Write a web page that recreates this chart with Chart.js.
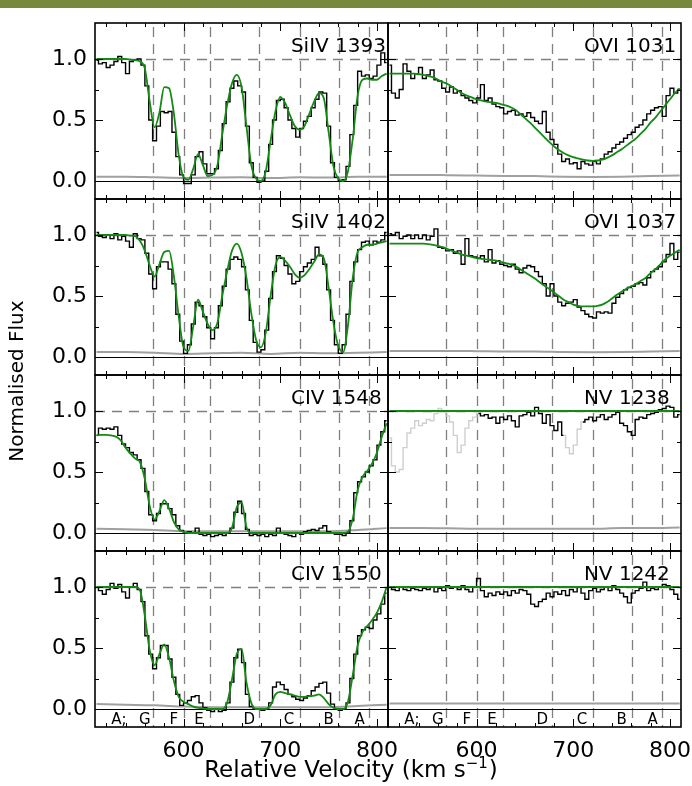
<!DOCTYPE html>
<html>
<head>
<meta charset="utf-8">
<script src="https://cdn.jsdelivr.net/npm/chart.js@4.4.1/dist/chart.umd.min.js"></script>
<style>
  body { margin: 0; background: #fff; width: 692px; height: 786px; position: relative; overflow: hidden; }
  #topbar { position: absolute; left: 0; top: 0; width: 692px; height: 8px; background: #76893d; }
  canvas { position: absolute; left: 0; top: 0; }
</style>
</head>
<body>
<div id="topbar"></div>
<script>
// velocity grids (km/s)
const modelVel = [510, 515, 520, 525, 530, 535, 540, 545, 550, 555,
  560, 565, 570, 575, 580, 585, 590, 595, 600, 605,
  610, 615, 620, 625, 630, 635, 640, 645, 650, 655,
  660, 665, 670, 675, 680, 685, 690, 695, 700, 705,
  710, 715, 720, 725, 730, 735, 740, 745, 750, 755,
  760, 765, 770, 775, 780, 785, 790, 795, 800, 805,
  810];
const dataVel = [510, 514, 518, 522, 526, 530, 534, 538, 542, 546,
  550, 554, 558, 562, 566, 570, 574, 578, 582, 586,
  590, 594, 598, 602, 606, 610, 614, 618, 622, 626,
  630, 634, 638, 642, 646, 650, 654, 658, 662, 666,
  670, 674, 678, 682, 686, 690, 694, 698, 702, 706,
  710, 714, 718, 722, 726, 730, 734, 738, 742, 746,
  750, 754, 758, 762, 766, 770, 774, 778, 782, 786,
  790, 794, 798, 802, 806, 810];
const errVel = [510, 540, 570, 600, 630, 660, 690, 720, 750, 780, 810];

// components
const componentVel = [568, 600, 627, 678, 720, 761, 792];
const componentNames = ['A;', 'G', 'F', 'E', 'D', 'C', 'B', 'A'];
const componentNameVel = [533, 560, 590, 616, 668, 709, 750, 782];

// ticks
const xMajorTicks = [600, 700, 800];
const xTickLabels = ['600', '700', '800'];
const xMinorTicks = [520, 540, 560, 580, 620, 640, 660, 680, 720, 740, 760, 780];
const yMajorTicks = [0, 0.5, 1.0];
const yTickLabels = ['0.0', '0.5', '1.0'];
const yMinorTicks = [0.25, 0.75];

// SiIV 1393
const siIV1393Model = [1.0, 1.0, 1.0, 1.0, 1.0, 1.0, 1.0, 0.995, 0.99, 0.98,
  0.92, 0.65, 0.44, 0.56, 0.77, 0.76, 0.55, 0.21, 0.03, 0.01,
  0.1, 0.22, 0.13, 0.04, 0.05, 0.13, 0.38, 0.62, 0.8, 0.87,
  0.77, 0.45, 0.13, 0.02, 0.0, 0.08, 0.33, 0.57, 0.69, 0.64,
  0.54, 0.45, 0.42, 0.45, 0.55, 0.65, 0.72, 0.68, 0.4, 0.12,
  0.02, 0.0, 0.08, 0.35, 0.7, 0.83, 0.84, 0.83, 0.83, 0.86,
  0.88];
const siIV1393Flux = [0.99, 0.96, 0.97, 0.93, 0.95, 0.98, 1.02, 0.97, 0.88, 0.98,
  0.99, 1.0, 0.95, 0.78, 0.5, 0.33, 0.45, 0.57, 0.56, 0.57,
  0.4, 0.2, 0.05, -0.02, -0.02, 0.05, 0.2, 0.24, 0.14, 0.06,
  0.06, 0.1, 0.25, 0.47, 0.65, 0.76, 0.82, 0.78, 0.73, 0.45,
  0.15, 0.03, -0.01, 0.0, 0.08, 0.3, 0.5, 0.66, 0.67, 0.6,
  0.5, 0.43, 0.36, 0.43, 0.49, 0.53, 0.6, 0.67, 0.73, 0.72,
  0.45, 0.15, 0.03, 0.0, 0.01, 0.12, 0.38, 0.62, 0.9, 0.86,
  0.87, 0.84, 0.86, 0.95, 1.05, 0.97];
const siIV1393Err = [0.035, 0.035, 0.03, 0.025, 0.028, 0.03, 0.025, 0.03, 0.028, 0.035, 0.035];

// OVI 1031
const oVI1031Model = [0.88, 0.88, 0.88, 0.88, 0.88, 0.88, 0.875, 0.87, 0.86, 0.85,
  0.83, 0.81, 0.795, 0.77, 0.745, 0.72, 0.7, 0.685, 0.67, 0.66,
  0.65, 0.645, 0.64, 0.63, 0.62, 0.605, 0.585, 0.55, 0.515, 0.48,
  0.44, 0.4, 0.36, 0.32, 0.285, 0.255, 0.23, 0.21, 0.195, 0.185,
  0.175, 0.168, 0.165, 0.168, 0.175, 0.19, 0.21, 0.235, 0.26, 0.29,
  0.32, 0.35, 0.39, 0.43, 0.48, 0.52, 0.57, 0.62, 0.67, 0.72,
  0.76];
const oVI1031Flux = [0.95, 0.72, 0.68, 0.75, 0.96, 0.9, 0.84, 0.88, 0.93, 0.84,
  0.87, 0.91, 0.83, 0.82, 0.76, 0.73, 0.77, 0.72, 0.74, 0.7,
  0.68, 0.66, 0.64, 0.68, 0.79, 0.66, 0.68, 0.63, 0.61, 0.6,
  0.55, 0.57, 0.58, 0.54, 0.55, 0.53, 0.56, 0.52, 0.49, 0.47,
  0.57, 0.4, 0.34, 0.3, 0.22, 0.16, 0.18, 0.14, 0.15, 0.1,
  0.16, 0.14, 0.13, 0.16, 0.14, 0.18, 0.22, 0.24, 0.27, 0.3,
  0.32, 0.35, 0.38, 0.4, 0.44, 0.46, 0.5, 0.55, 0.58, 0.6,
  0.61, 0.53, 0.7, 0.76, 0.72, 0.75];
const oVI1031Err = [0.05, 0.05, 0.048, 0.045, 0.042, 0.04, 0.035, 0.033, 0.035, 0.04, 0.045];

// SiIV 1402
const siIV1402Model = [1.0, 1.0, 1.0, 1.0, 1.0, 1.0, 1.0, 0.995, 0.99, 0.95,
  0.87, 0.75, 0.66, 0.76, 0.86, 0.87, 0.66, 0.33, 0.08, 0.05,
  0.25, 0.47, 0.37, 0.27, 0.22, 0.28, 0.5, 0.7, 0.87, 0.93,
  0.85, 0.65, 0.36, 0.14, 0.08, 0.2, 0.5, 0.75, 0.82, 0.79,
  0.74, 0.68, 0.65, 0.67, 0.72, 0.78, 0.84, 0.81, 0.57, 0.28,
  0.09, 0.04, 0.26, 0.65, 0.86, 0.9, 0.92, 0.92, 0.93, 0.94,
  0.95];
const siIV1402Flux = [1.02, 0.99, 0.98, 1.0, 0.97, 1.01, 0.96, 0.99, 0.95, 0.9,
  1.01, 0.97, 0.96, 0.85, 0.68, 0.56, 0.74, 0.78, 0.78, 0.72,
  0.6, 0.35, 0.13, 0.03, 0.1, 0.27, 0.45, 0.42, 0.33, 0.24,
  0.15, 0.24, 0.42, 0.58, 0.72, 0.8, 0.82, 0.8, 0.74, 0.55,
  0.3, 0.12, 0.04, 0.06, 0.22, 0.48, 0.7, 0.83, 0.81, 0.75,
  0.68, 0.6, 0.62, 0.7, 0.74, 0.77, 0.8, 0.9, 0.83, 0.76,
  0.55, 0.3, 0.1, 0.03, 0.1, 0.35, 0.62, 0.78, 0.88, 0.94,
  0.95, 0.92, 0.95, 0.94, 0.96, 1.02];
const siIV1402Err = [0.04, 0.04, 0.035, 0.025, 0.03, 0.035, 0.025, 0.035, 0.03, 0.035, 0.04];

// OVI 1037
const oVI1037Model = [0.93, 0.93, 0.93, 0.93, 0.93, 0.93, 0.93, 0.93, 0.925, 0.92,
  0.91, 0.9, 0.885, 0.87, 0.855, 0.84, 0.83, 0.82, 0.81, 0.805,
  0.8, 0.795, 0.79, 0.78, 0.77, 0.76, 0.745, 0.72, 0.695, 0.67,
  0.645, 0.615, 0.585, 0.56, 0.53, 0.5, 0.47, 0.45, 0.43, 0.42,
  0.415, 0.415, 0.415, 0.42, 0.43, 0.45, 0.48, 0.51, 0.535, 0.56,
  0.58, 0.6, 0.625, 0.65, 0.69, 0.72, 0.76, 0.8, 0.83, 0.855,
  0.88];
const oVI1037Flux = [1.01, 1.0, 1.02, 0.97, 0.99, 1.0, 0.97, 1.0, 0.97, 1.0,
  0.96, 0.99, 1.05, 0.9, 0.89, 0.87, 0.88, 0.85, 0.87, 0.76,
  0.97, 0.83, 0.82, 0.81, 0.83, 0.78, 0.88, 0.77, 0.79, 0.76,
  0.75, 0.74, 0.76, 0.72, 0.69, 0.73, 0.75, 0.74, 0.7, 0.66,
  0.6, 0.5, 0.6, 0.5, 0.45, 0.42, 0.44, 0.45, 0.47, 0.41,
  0.38, 0.35, 0.33, 0.32, 0.37, 0.36, 0.37, 0.36, 0.44, 0.49,
  0.52, 0.55, 0.57, 0.58, 0.6, 0.61, 0.59, 0.65, 0.7, 0.72,
  0.74, 0.78, 0.84, 0.93, 0.8, 0.86];
const oVI1037Err = [0.05, 0.05, 0.05, 0.048, 0.045, 0.045, 0.04, 0.038, 0.04, 0.045, 0.05];

// CIV 1548
const cIV1548Model = [0.8, 0.805, 0.805, 0.8, 0.79, 0.76, 0.7, 0.65, 0.61, 0.58,
  0.44, 0.22, 0.11, 0.18, 0.27, 0.2, 0.09, 0.03, 0.01, 0.0,
  0.0, 0.0, 0.0, 0.0, 0.0, 0.0, 0.0, 0.0, 0.04, 0.21,
  0.25, 0.05, 0.0, 0.0, 0.0, 0.0, 0.0, 0.0, 0.0, 0.0,
  0.0, 0.0, 0.0, 0.0, 0.0, 0.0, 0.0, 0.0, 0.0, 0.0,
  0.0, 0.0, 0.01, 0.12, 0.35, 0.46, 0.51, 0.57, 0.66, 0.79,
  0.9];
const cIV1548Flux = [0.8, 0.86, 0.85, 0.86, 0.85, 0.87, 0.8, 0.73, 0.7, 0.66,
  0.64, 0.6, 0.53, 0.34, 0.15, 0.1, 0.16, 0.24, 0.24, 0.2,
  0.15, 0.06, 0.02, 0.0, 0.01, 0.0, 0.04, -0.01, -0.02, -0.01,
  -0.03, -0.02, -0.01, -0.02, 0.0, 0.04, 0.17, 0.26, 0.16, 0.03,
  -0.02, -0.01, -0.02, -0.01, -0.03, -0.01, -0.02, 0.04, 0.0, -0.01,
  -0.02, -0.03, 0.0, -0.01, 0.01, 0.02, 0.03, 0.02, 0.04, 0.06,
  0.01, 0.0, -0.01, -0.01, -0.02, 0.0, 0.1, 0.33, 0.42, 0.46,
  0.5, 0.55, 0.6, 0.72, 0.83, 0.92];
const cIV1548Err = [0.035, 0.03, 0.025, 0.015, 0.015, 0.015, 0.015, 0.015, 0.015, 0.025, 0.04];

// NV 1238
const nV1238Model = [1.0, 1.0, 1.0, 1.0, 1.0, 1.0, 1.0, 1.0, 1.0, 1.0,
  1.0, 1.0, 1.0, 1.0, 1.0, 1.0, 1.0, 1.0, 1.0, 1.0,
  1.0, 1.0, 1.0, 1.0, 1.0, 1.0, 1.0, 1.0, 1.0, 1.0,
  1.0, 1.0, 1.0, 1.0, 1.0, 1.0, 1.0, 1.0, 1.0, 1.0,
  1.0, 1.0, 1.0, 1.0, 1.0, 1.0, 1.0, 1.0, 1.0, 1.0,
  1.0, 1.0, 1.0, 1.0, 1.0, 1.0, 1.0, 1.0, 1.0, 1.0,
  1.0];
const nV1238Flux = [0.78, 0.55, 0.5, 0.52, 0.7, 0.82, 0.86, 0.92, 0.88, 0.9,
  0.93, 0.92, 0.98, 1.02, 1.0, 0.96, 0.91, 0.8, 0.66, 0.72,
  0.86, 0.92, 0.95, 0.98, 0.96, 0.97, 0.94, 0.95, 0.9, 0.95,
  0.93, 0.96, 0.92, 0.87, 0.96, 0.97, 0.99, 0.96, 1.03, 0.98,
  0.9, 0.97, 0.88, 0.84, 0.91, 0.8, 0.7, 0.65, 0.72, 0.85,
  0.91, 0.93, 0.95, 0.92, 0.95, 0.97, 0.93, 0.95, 0.97, 0.99,
  0.9, 0.88, 0.83, 0.8, 0.93, 0.95, 0.94, 0.97, 0.98, 0.99,
  1.01, 1.02, 1.04, 1.03, 0.95, 0.97];
const nV1238Err = [0.04, 0.04, 0.038, 0.035, 0.035, 0.035, 0.035, 0.035, 0.04, 0.04, 0.045];
const nV1238Blends = [[508, 600], [690, 710]];

// CIV 1550
const cIV1550Model = [1.0, 1.0, 1.0, 1.0, 1.0, 1.0, 1.0, 1.0, 1.0, 0.97,
  0.76, 0.48, 0.36, 0.45, 0.53, 0.42, 0.23, 0.1, 0.06, 0.04,
  0.02, 0.01, 0.005, 0.0, 0.0, 0.0, 0.0, 0.05, 0.24, 0.45,
  0.49, 0.22, 0.05, 0.0, 0.0, 0.0, 0.03, 0.12, 0.14, 0.13,
  0.12, 0.11, 0.1, 0.1, 0.105, 0.11, 0.12, 0.09, 0.04, 0.01,
  0.0, 0.0, 0.06, 0.28, 0.52, 0.63, 0.68, 0.73, 0.79, 0.88,
  1.0];
const cIV1550Flux = [1.0, 0.97, 0.94, 0.98, 1.03, 0.99, 1.02, 0.96, 0.91, 1.0,
  1.03, 0.98, 0.88, 0.6, 0.45, 0.33, 0.42, 0.52, 0.52, 0.41,
  0.26, 0.12, 0.03, 0.05, 0.07, 0.1, 0.11, 0.05, 0.01, -0.01,
  -0.02, 0.0, -0.02, -0.01, 0.05, 0.22, 0.42, 0.49, 0.38, 0.12,
  0.02, 0.0, 0.0, -0.01, 0.0, 0.05, 0.18, 0.22, 0.2, 0.16,
  0.12, 0.1, 0.08, 0.07, 0.09, 0.11, 0.15, 0.18, 0.21, 0.22,
  0.13, 0.04, 0.0, -0.01, 0.0, 0.05, 0.25, 0.45, 0.6, 0.65,
  0.67, 0.66, 0.73, 0.78, 0.86, 0.95];
const cIV1550Err = [0.04, 0.035, 0.03, 0.02, 0.015, 0.015, 0.015, 0.015, 0.015, 0.025, 0.035];

// NV 1242
const nV1242Model = [1.0, 1.0, 1.0, 1.0, 1.0, 1.0, 1.0, 1.0, 1.0, 1.0,
  1.0, 1.0, 1.0, 1.0, 1.0, 1.0, 1.0, 1.0, 1.0, 1.0,
  1.0, 1.0, 1.0, 1.0, 1.0, 1.0, 1.0, 1.0, 1.0, 1.0,
  1.0, 1.0, 1.0, 1.0, 1.0, 1.0, 1.0, 1.0, 1.0, 1.0,
  1.0, 1.0, 1.0, 1.0, 1.0, 1.0, 1.0, 1.0, 1.0, 1.0,
  1.0, 1.0, 1.0, 1.0, 1.0, 1.0, 1.0, 1.0, 1.0, 1.0,
  1.0];
const nV1242Flux = [1.0, 0.98, 0.97, 1.0, 0.98, 0.97, 0.99, 0.98, 0.97, 0.99,
  0.98, 1.0, 0.96, 0.99, 0.97, 1.01, 0.99, 1.0, 0.98, 1.01,
  0.98, 0.96, 1.0, 1.07, 0.97, 0.92, 0.95, 0.93, 0.96, 0.94,
  0.96, 0.93, 0.97, 0.95, 0.98, 0.97, 0.94, 0.86, 0.84, 0.88,
  0.9, 0.95, 0.92, 0.96, 0.94, 0.97, 0.93, 0.98, 0.96, 1.0,
  0.95, 0.9, 0.97, 0.99, 0.96, 0.98, 1.0, 0.97, 1.01, 0.98,
  0.95, 0.92, 0.87, 0.95, 0.97, 0.99, 1.04, 0.97, 0.99, 0.98,
  1.0, 1.02, 1.01, 0.98, 0.94, 0.9];
const nV1242Err = [0.045, 0.045, 0.045, 0.045, 0.045, 0.045, 0.045, 0.045, 0.045, 0.045, 0.045];

const panels = [
  { title: 'SiIV 1393', flux: siIV1393Flux, model: siIV1393Model, err: siIV1393Err },
  { title: 'OVI 1031', flux: oVI1031Flux, model: oVI1031Model, err: oVI1031Err },
  { title: 'SiIV 1402', flux: siIV1402Flux, model: siIV1402Model, err: siIV1402Err },
  { title: 'OVI 1037', flux: oVI1037Flux, model: oVI1037Model, err: oVI1037Err },
  { title: 'CIV 1548', flux: cIV1548Flux, model: cIV1548Model, err: cIV1548Err },
  { title: 'NV 1238', flux: nV1238Flux, model: nV1238Model, err: nV1238Err, blends: nV1238Blends },
  { title: 'CIV 1550', flux: cIV1550Flux, model: cIV1550Model, err: cIV1550Err },
  { title: 'NV 1242', flux: nV1242Flux, model: nV1242Model, err: nV1242Err }
];

// page layout
const W = 692, H = 786;
const colX = [[95, 388], [388, 681]];
const rowTop = [23, 199, 375, 551];
const rowH = 176;
const FONT = '"DejaVu Sans", "Liberation Sans", sans-serif';

const pts = (xs, ys) => xs.map((v, i) => ({ x: v, y: ys[i] }));

const decor = {
  id: 'decor',
  beforeDatasetsDraw(chart, args, o) {
    const { ctx, chartArea: a, scales: { x, y } } = chart;
    ctx.save();
    ctx.beginPath();
    ctx.rect(a.left, a.top, a.right - a.left, a.bottom - a.top);
    ctx.clip();
    ctx.strokeStyle = '#808080';
    ctx.lineWidth = 1.3;
    ctx.setLineDash([10, 7]);
    componentVel.forEach(v => {
      const px = Math.round(x.getPixelForValue(v)) + 0.5;
      ctx.beginPath();
      ctx.moveTo(px, a.top + 4);
      ctx.lineTo(px, a.bottom);
      ctx.stroke();
    });
    const p1 = Math.round(y.getPixelForValue(1)) + 0.5;
    ctx.beginPath();
    ctx.moveTo(a.left, p1);
    ctx.lineTo(a.right, p1);
    ctx.stroke();
    ctx.setLineDash([]);
    ctx.strokeStyle = '#000';
    ctx.lineWidth = 1;
    const p0 = Math.round(y.getPixelForValue(0)) + 0.5;
    ctx.beginPath();
    ctx.moveTo(a.left, p0);
    ctx.lineTo(a.right, p0);
    ctx.stroke();
    ctx.restore();
  },
  afterDatasetsDraw(chart, args, o) {
    const { ctx, chartArea: a, scales: { x, y } } = chart;
    ctx.save();
    ctx.strokeStyle = '#000';
    ctx.lineWidth = 1;
    const tick = (vals, len) => {
      vals.forEach(v => {
        const px = Math.round(x.getPixelForValue(v)) + 0.5;
        ctx.beginPath();
        ctx.moveTo(px, a.top); ctx.lineTo(px, a.top + len);
        ctx.moveTo(px, a.bottom); ctx.lineTo(px, a.bottom - len);
        ctx.stroke();
      });
    };
    const ytick = (vals, len) => {
      vals.forEach(v => {
        const py = Math.round(y.getPixelForValue(v)) + 0.5;
        ctx.beginPath();
        ctx.moveTo(a.left, py); ctx.lineTo(a.left + len, py);
        ctx.moveTo(a.right, py); ctx.lineTo(a.right - len, py);
        ctx.stroke();
      });
    };
    tick(xMajorTicks, 8);
    tick(xMinorTicks, 4);
    ytick(yMajorTicks, 8);
    ytick(yMinorTicks, 4);

    ctx.lineWidth = 1.6;
    ctx.strokeRect(a.left, a.top, a.right - a.left, a.bottom - a.top);

    ctx.fillStyle = '#000';
    ctx.font = '20px ' + FONT;
    ctx.textAlign = 'left';
    ctx.textBaseline = 'alphabetic';
    ctx.fillText(o.title, x.getPixelForValue(711), a.top + 29);

    if (o.yLabels) {
      ctx.font = '22px ' + FONT;
      ctx.textAlign = 'right';
      ctx.textBaseline = 'middle';
      yMajorTicks.forEach((v, i) => ctx.fillText(yTickLabels[i], a.left - 8, y.getPixelForValue(v)));
    }
    if (o.xLabels) {
      ctx.font = '22px ' + FONT;
      ctx.textAlign = 'center';
      ctx.textBaseline = 'alphabetic';
      xMajorTicks.forEach((v, i) => ctx.fillText(xTickLabels[i], x.getPixelForValue(v), a.bottom + 30));
      ctx.font = '15px ' + FONT;
      componentNames.forEach((n, i) => ctx.fillText(n, x.getPixelForValue(componentNameVel[i]), a.bottom - 3));
    }
    if (o.axisTitles) {
      ctx.font = '20px ' + FONT;
      ctx.textAlign = 'center';
      ctx.textBaseline = 'alphabetic';
      ctx.save();
      ctx.translate(23, 381);
      ctx.rotate(-Math.PI / 2);
      ctx.fillText('Normalised Flux', 0, 0);
      ctx.restore();

      const main = 'Relative Velocity (km s', sup = '\u22121', tail = ')';
      ctx.font = '23px ' + FONT;
      const wMain = ctx.measureText(main).width, wTail = ctx.measureText(tail).width;
      ctx.font = '15px ' + FONT;
      const wSup = ctx.measureText(sup).width;
      let sx = 351 - (wMain + wSup + wTail + 1) / 2;
      ctx.textAlign = 'left';
      ctx.font = '23px ' + FONT;
      ctx.fillText(main, sx, 777);
      sx += wMain;
      ctx.font = '15px ' + FONT;
      ctx.fillText(sup, sx, 768);
      sx += wSup + 1;
      ctx.font = '23px ' + FONT;
      ctx.fillText(tail, sx, 777);
    }
    ctx.restore();
  }
};

panels.forEach((p, i) => {
  const col = i % 2, row = Math.floor(i / 2);
  const canvas = document.createElement('canvas');
  canvas.width = W; canvas.height = H;
  canvas.style.width = W + 'px'; canvas.style.height = H + 'px';
  document.body.appendChild(canvas);

  const inBlend = v => !!p.blends && p.blends.some(([lo, hi]) => v >= lo && v <= hi);

  new Chart(canvas.getContext('2d'), {
    type: 'line',
    data: {
      datasets: [
        {
          data: pts(modelVel, p.model),
          borderColor: '#138a13',
          borderWidth: 1.8,
          pointRadius: 0,
          cubicInterpolationMode: 'monotone',
          fill: false
        },
        {
          data: pts(dataVel, p.flux),
          borderColor: '#000',
          borderWidth: 1.4,
          pointRadius: 0,
          stepped: 'middle',
          fill: false,
          segment: {
            borderColor: c => inBlend((c.p0.parsed.x + c.p1.parsed.x) / 2) ? '#cfcfcf' : '#000'
          }
        },
        {
          data: pts(errVel, p.err),
          borderColor: '#a0a0a0',
          borderWidth: 2,
          pointRadius: 0,
          cubicInterpolationMode: 'monotone',
          fill: false
        }
      ]
    },
    options: {
      responsive: false,
      maintainAspectRatio: false,
      animation: false,
      events: [],
      layout: {
        padding: {
          left: colX[col][0],
          right: W - colX[col][1],
          top: rowTop[row],
          bottom: H - (rowTop[row] + rowH)
        }
      },
      plugins: {
        legend: { display: false },
        tooltip: { enabled: false },
        decor: {
          title: p.title,
          yLabels: col === 0,
          xLabels: row === 3,
          axisTitles: i === 0
        }
      },
      scales: {
        x: { type: 'linear', min: 508.4, max: 811.4, display: false },
        y: { type: 'linear', min: -0.1475, max: 1.2951, display: false }
      }
    },
    plugins: [decor]
  });
});
</script>
</body>
</html>
